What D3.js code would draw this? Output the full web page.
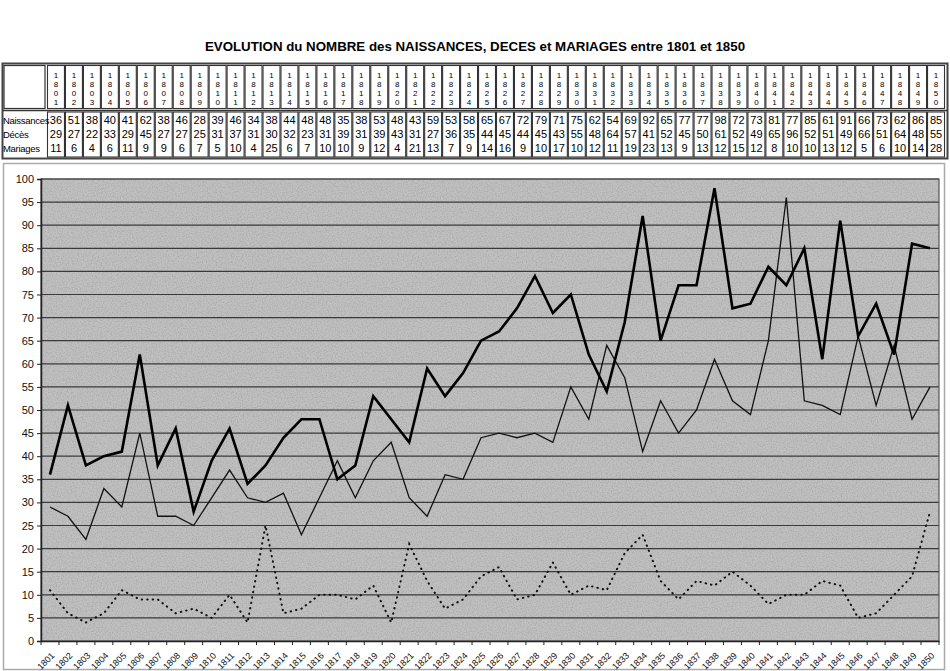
<!DOCTYPE html>
<html>
<head>
<meta charset="utf-8">
<script src="https://cdn.jsdelivr.net/npm/d3@7"></script>
<style>
  body { margin: 0; background: #fff; }
  svg { display: block; font-family: "Liberation Sans", Arial, sans-serif; }
</style>
</head>
<body>
<div id="chart"></div>
<script>
const years = d3.range(1801, 1851);
const naissances = [36,51,38,40,41,62,38,46,28,39,46,34,38,44,48,48,35,38,53,48,43,59,53,58,65,67,72,79,71,75,62,54,69,92,65,77,77,98,72,73,81,77,85,61,91,66,73,62,86,85];
const deces = [29,27,22,33,29,45,27,27,25,31,37,31,30,32,23,31,39,31,39,43,31,27,36,35,44,45,44,45,43,55,48,64,57,41,52,45,50,61,52,49,65,96,52,51,49,66,51,64,48,55];
const mariages = [11,6,4,6,11,9,9,6,7,5,10,4,25,6,7,10,10,9,12,4,21,13,7,9,14,16,9,10,17,10,12,11,19,23,13,9,13,12,15,12,8,10,10,13,12,5,6,10,14,28];
const rowLabels = ["Naissances", "Décès", "Mariages"];
const yTicks = d3.range(0, 101, 5);

const W = 950, H = 671;
const svg = d3.select("#chart").append("svg")
    .attr("width", W)
    .attr("height", H);

// grain for the scanned grey background
const defs = svg.append("defs");
const filt = defs.append("filter").attr("id", "grain")
    .attr("x", 0).attr("y", 0).attr("width", 1).attr("height", 1);
filt.append("feTurbulence").attr("type", "fractalNoise")
    .attr("baseFrequency", 0.8).attr("numOctaves", 2).attr("seed", 3).attr("result", "n");
filt.append("feColorMatrix").attr("in", "n").attr("type", "matrix")
    .attr("values", "0 0 0 0 0.35  0 0 0 0 0.35  0 0 0 0 0.35  0 0 0 1.4 -0.55")
    .attr("result", "g");
filt.append("feComposite").attr("in", "g").attr("in2", "SourceGraphic").attr("operator", "in");

// title
svg.append("text")
    .attr("x", 475)
    .attr("y", 51)
    .attr("text-anchor", "middle")
    .attr("font-size", "13.3px")
    .attr("font-weight", "bold")
    .text("EVOLUTION du NOMBRE des NAISSANCES, DECES et MARIAGES entre 1801 et 1850");

// ---- table ----
const tx = d3.scaleBand().domain(years).range([47, 945]);
const table = svg.append("g");

table.append("rect")
    .attr("x", 2.5).attr("y", 63.5).attr("width", 945).attr("height", 95)
    .attr("fill", "none").attr("stroke", "#444").attr("stroke-width", 2);
// header row + data row boxes
table.append("rect")
    .attr("x", 4).attr("y", 65.5).attr("width", 41).attr("height", 43)
    .attr("fill", "none").attr("stroke", "#333").attr("stroke-width", 1.2);
table.append("line")
    .attr("x1", 3).attr("x2", 947).attr("y1", 110.5).attr("y2", 110.5)
    .attr("stroke", "#333").attr("stroke-width", 1.5);

years.forEach(y => {
    const x0 = tx(y);
    table.append("rect")
        .attr("x", x0 + 0.5).attr("y", 65.5)
        .attr("width", tx.bandwidth() - 1).attr("height", 43)
        .attr("fill", "none").attr("stroke", "#333").attr("stroke-width", 1.1);
    table.append("rect")
        .attr("x", x0 + 0.5).attr("y", 112)
        .attr("width", tx.bandwidth() - 1).attr("height", 45)
        .attr("fill", "none").attr("stroke", "#333").attr("stroke-width", 1.1);
    String(y).split("").forEach((ch, i) => {
        table.append("text")
            .attr("x", x0 + tx.bandwidth() / 2)
            .attr("y", 78 + i * 9)
            .attr("text-anchor", "middle")
            .attr("font-size", "8px")
            .text(ch);
    });
});

const rowsY = [124, 138, 152];
[naissances, deces, mariages].forEach((vals, r) => {
    table.append("text")
        .attr("x", 3).attr("y", rowsY[r])
        .attr("font-size", "9.5px")
        .attr("letter-spacing", "-0.3")
        .text(rowLabels[r]);
    vals.forEach((v, i) => {
        table.append("text")
            .attr("x", tx(years[i]) + tx.bandwidth() / 2)
            .attr("y", rowsY[r])
            .attr("text-anchor", "middle")
            .attr("font-size", "11px")
            .text(v);
    });
});

// ---- chart ----
const margin = {left: 41, right: 939, top: 179, bottom: 641};
const x = d3.scaleBand().domain(years).range([margin.left, margin.right]);
const y = d3.scaleLinear().domain([0, 100]).range([margin.bottom, margin.top]);

// frame around the chart
svg.append("rect")
    .attr("x", 3.5).attr("y", 163.5).attr("width", 941).attr("height", 506)
    .attr("fill", "none").attr("stroke", "#aaa").attr("stroke-width", 1.5);

const plot = svg.append("g");
plot.append("rect")
    .attr("x", margin.left).attr("y", margin.top)
    .attr("width", margin.right - margin.left).attr("height", margin.bottom - margin.top)
    .attr("fill", "#c0c0c0");
plot.append("rect")
    .attr("x", margin.left).attr("y", margin.top)
    .attr("width", margin.right - margin.left).attr("height", margin.bottom - margin.top)
    .attr("fill", "#fff")
    .attr("filter", "url(#grain)");

// gridlines
plot.selectAll(".grid")
    .data(yTicks.filter(d => d > 0))
    .join("line")
    .attr("x1", margin.left).attr("x2", margin.right)
    .attr("y1", d => y(d)).attr("y2", d => y(d))
    .attr("stroke", "#3a3a3a").attr("stroke-width", 1.2);

plot.append("rect")
    .attr("x", margin.left).attr("y", margin.top)
    .attr("width", margin.right - margin.left).attr("height", margin.bottom - margin.top)
    .attr("fill", "none").attr("stroke", "#555").attr("stroke-width", 1.2);

// axes
const yAxis = d3.axisLeft(y).tickValues(yTicks).tickSize(4).tickPadding(3);
const gy = svg.append("g").attr("transform", `translate(${margin.left},0)`).call(yAxis);
gy.select(".domain").attr("stroke", "#222").attr("stroke-width", 1.5);
gy.selectAll("text").attr("font-size", "11px").attr("fill", "#111");
gy.selectAll(".tick line").attr("stroke", "#222");

const xAxis = d3.axisBottom(x).tickSize(0).tickSizeOuter(0);
const gx = svg.append("g").attr("transform", `translate(0,${margin.bottom})`).call(xAxis);
gx.select(".domain").attr("stroke", "#222").attr("stroke-width", 1.5);
gx.selectAll("text")
    .attr("font-size", "9px")
    .attr("fill", "#111")
    .attr("text-anchor", "end")
    .attr("dx", 0).attr("dy", 0)
    .attr("transform", "translate(3,13) rotate(-45)");
// small ticks at category boundaries
gx.selectAll(".sep")
    .data(years.concat([1851]))
    .join("line")
    .attr("x1", d => d === 1851 ? margin.right : x(d))
    .attr("x2", d => d === 1851 ? margin.right : x(d))
    .attr("y1", 0).attr("y2", 4)
    .attr("stroke", "#222");

// series
const line = d3.line()
    .x((d, i) => x(years[i]) + x.bandwidth() / 2)
    .y(d => y(d));

plot.append("path")
    .datum(mariages)
    .attr("d", line)
    .attr("fill", "none")
    .attr("stroke", "#111")
    .attr("stroke-width", 2)
    .attr("stroke-linecap", "round")
    .attr("stroke-dasharray", "0.5 5");

plot.append("path")
    .datum(deces)
    .attr("d", line)
    .attr("fill", "none")
    .attr("stroke", "#111")
    .attr("stroke-width", 1.3);

plot.append("path")
    .datum(naissances)
    .attr("d", line)
    .attr("fill", "none")
    .attr("stroke", "#000")
    .attr("stroke-width", 2.6)
    .attr("stroke-linejoin", "miter");
</script>
</body>
</html>
